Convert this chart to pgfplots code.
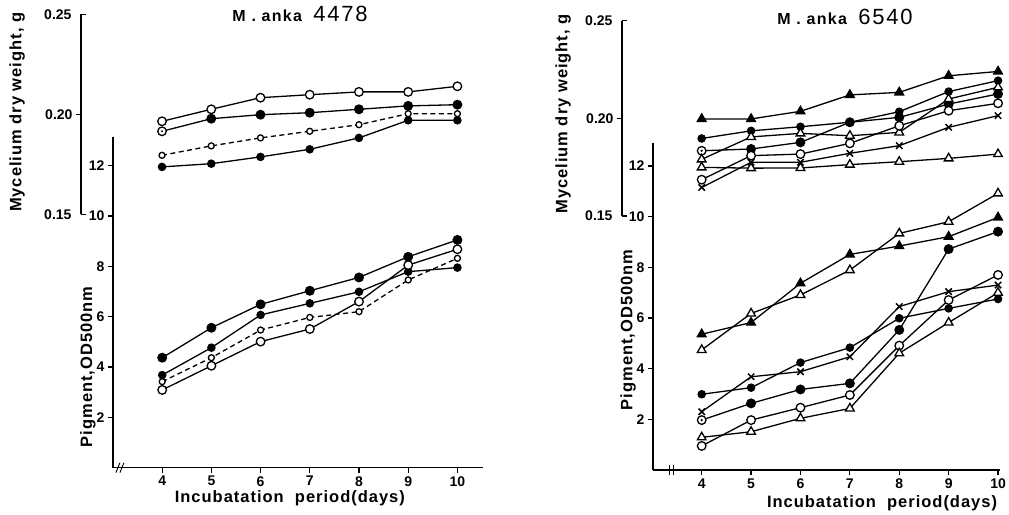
\documentclass[border=0pt]{standalone}
\usepackage{fontspec}
\setmainfont{Liberation Sans}
\newfontfamily\lblfont{Liberation Sans}[LetterSpace=6]
\newfontfamily\ttlfont{Liberation Sans}[LetterSpace=8]
\usepackage{pgfplots}
\pgfplotsset{compat=1.18}
\pgfdeclareplotmark{odot}{%
  \pgfpathcircle{\pgfpointorigin}{\pgfplotmarksize}\pgfusepathqfillstroke
  \pgfsetfillcolor{black}%
  \pgfpathcircle{\pgfpointorigin}{0.28\pgfplotmarksize}\pgfusepathqfill}
\pgfplotsset{
  common/.style={scale only axis, clip=false, anchor=south west,
    axis line style={-, line width=1.5pt},
    tick style={black, line width=1.2pt}, major tick length=5pt, tick align=outside,
    tick label style={font=\bfseries\fontsize{14}{14}\selectfont},
    /pgf/number format/assume math mode=true,
    label style={font=\lblfont\bfseries\fontsize{16.5}{16.5}\selectfont},
    every axis plot/.append style={black, line width=1.3pt}},
  sO/.style={mark=*, mark size=4.3pt, mark options={fill=white, solid, line width=1.3pt}},
  sOs/.style={mark=*, mark size=3pt, mark options={fill=white, solid, line width=1.3pt}},
  sD/.style={mark=odot, mark size=4.3pt, mark options={fill=white, solid, line width=1.3pt}},
  sF/.style={mark=*, mark size=3.6pt, mark options={fill=black, solid}},
  sT/.style={mark=triangle*, mark size=5pt, mark options={fill=white, solid, line width=1.3pt}},
  sTF/.style={mark=triangle*, mark size=5pt, mark options={fill=black, solid}},
  sX/.style={mark=x, mark size=4.5pt, mark options={solid, line width=1.5pt}},
  dsh/.style={dash pattern=on 5pt off 3.5pt},
}
\begin{document}
\begin{tikzpicture}
\useasboundingbox (0,0) rectangle (1009pt,514pt);
%================ LEFT: pigment ================
\begin{axis}[common, at={(113pt,46.3pt)}, width=370pt, height=330.7pt,
  xmin=3.0, xmax=10.52, ymin=0, ymax=13.14,
  axis x line*=bottom, axis y line*=left,
  xtick={4,5,6,7,8,9,10}, ytick={2,4,6,8,10,12},
  xlabel={Incubatation\ \ period(days)},
  xlabel style={at={(axis description cs:0.478,-0.0916)}, anchor=center},
  ylabel={Pigment,OD500nm},
  ylabel style={at={(axis description cs:-0.0676,0.3045)}, anchor=center}]
\addplot[sD] coordinates {(4,4.37)(5,5.56)(6,6.49)(7,7.03)(8,7.56)(9,8.38)(10,9.05)};
\addplot[sF, only marks, forget plot] coordinates {(4,4.37)};
\addplot[sF] coordinates {(4,3.68)(5,4.77)(6,6.07)(7,6.53)(8,6.99)(9,7.79)(10,7.95)};
\addplot[sOs, dsh] coordinates {(4,3.42)(5,4.37)(6,5.47)(7,5.97)(8,6.20)(9,7.46)(10,8.32)};
\addplot[sO] coordinates {(4,3.09)(5,4.05)(6,5.01)(7,5.51)(8,6.60)(9,8.05)(10,8.68)};
\draw[line width=0.9pt] (axis cs:3.12,0) ++(-3pt,-5pt) -- ++(4pt,10pt);
\draw[line width=0.9pt] (axis cs:3.12,0) ++(1pt,-5pt) -- ++(4pt,10pt);
\end{axis}
%================ LEFT: mycelium ================
\begin{axis}[common, at={(81pt,299.7pt)}, width=402pt, height=200pt,
  xmin=2.354, xmax=10.52, ymin=0.15, ymax=0.25,
  axis x line=none, axis y line*=left,
  ytick={0.20}, yticklabels={0.20},
  extra y ticks={0.15,0.25}, extra y tick labels={0.15,0.25},
  extra y tick style={tick align=inside, yticklabel style={xshift=-6pt}},
  ylabel={Mycelium dry weight, g},
  ylabel style={at={(axis description cs:-0.159,0.51)}, anchor=center},
  title={\ttlfont\bfseries\fontsize{16}{16}\selectfont M . anka\ \ {\mdseries\fontsize{22}{22}\selectfont 4478}},
  title style={at={(axis description cs:0.545,0.9715)}, anchor=center}]
\addplot[sO] coordinates {(4,0.1965)(5,0.2025)(6,0.2083)(7,0.2098)(8,0.2112)(9,0.2112)(10,0.2140)};
\addplot[sD] coordinates {(4,0.1915)(5,0.1978)(6,0.1998)(7,0.2008)(8,0.2025)(9,0.2042)(10,0.2048)};
\addplot[sOs, dsh] coordinates {(4,0.1795)(5,0.1842)(6,0.1882)(7,0.1915)(8,0.1948)(9,0.2003)(10,0.2003)};
\addplot[sF] coordinates {(4,0.1737)(5,0.1753)(6,0.1787)(7,0.1825)(8,0.1882)(9,0.1970)(10,0.1970)};
\end{axis}
%================ RIGHT: pigment ================
\begin{axis}[common, at={(653pt,44pt)}, width=347pt, height=327.3pt,
  xmin=3.014, xmax=10.04, ymin=0, ymax=12.92,
  axis x line*=bottom, axis y line*=left,
  xtick={4,5,6,7,8,9,10}, ytick={2,4,6,8,10,12},
  xlabel={Incubatation\ \ period(days)},
  xlabel style={at={(axis description cs:0.66,-0.1008)}, anchor=center},
  ylabel={Pigment,OD500nm},
  ylabel style={at={(axis description cs:-0.072,0.428)}, anchor=center}]
\addplot[sTF] coordinates {(4,5.36)(5,5.82)(6,7.37)(7,8.51)(8,8.84)(9,9.21)(10,9.97)};
\addplot[sT] coordinates {(4,4.74)(5,6.18)(6,6.91)(7,7.89)(8,9.34)(9,9.80)(10,10.92)};
\addplot[sD] coordinates {(4,1.97)(5,2.63)(6,3.18)(7,3.42)(8,5.53)(9,8.72)(10,9.41)};
\addplot[sF] coordinates {(4,2.99)(5,3.25)(6,4.24)(7,4.83)(8,5.99)(9,6.38)(10,6.75)};
\addplot[sX] coordinates {(4,2.30)(5,3.68)(6,3.88)(7,4.47)(8,6.45)(9,7.04)(10,7.30)};
\addplot[sO] coordinates {(4,0.95)(5,1.97)(6,2.46)(7,2.96)(8,4.91)(9,6.71)(10,7.70)};
\addplot[sT] coordinates {(4,1.29)(5,1.51)(6,2.04)(7,2.43)(8,4.61)(9,5.82)(10,7.00)};
\draw[line width=0.9pt] (axis cs:3.4,0) ++(-2.5pt,-5pt) -- ++(0pt,10pt);
\draw[line width=0.9pt] (axis cs:3.4,0) ++(1.5pt,-5pt) -- ++(0pt,10pt);
\end{axis}
%================ RIGHT: mycelium ================
\begin{axis}[common, at={(622pt,298pt)}, width=378pt, height=195.3pt,
  xmin=2.387, xmax=10.04, ymin=0.15, ymax=0.25,
  axis x line=none, axis y line*=left,
  ytick={0.20}, yticklabels={0.20},
  extra y ticks={0.15,0.25}, extra y tick labels={0.15,0.25},
  extra y tick style={tick align=inside, yticklabel style={xshift=-6pt}},
  ylabel={Mycelium dry weight, g},
  ylabel style={at={(axis description cs:-0.156,0.522)}, anchor=center},
  title={\ttlfont\bfseries\fontsize{16}{16}\selectfont M . anka\ \ {\mdseries\fontsize{22}{22}\selectfont 6540}},
  title style={at={(axis description cs:0.59,0.988)}, anchor=center}]
\addplot[sTF] coordinates {(4,0.1997)(5,0.1997)(6,0.2036)(7,0.2120)(8,0.2133)(9,0.2218)(10,0.2240)};
\addplot[sF] coordinates {(4,0.1897)(5,0.1936)(6,0.1957)(7,0.1980)(8,0.2034)(9,0.2137)(10,0.2193)};
\addplot[sD] coordinates {(4,0.1834)(5,0.1843)(6,0.1877)(7,0.1980)(8,0.2005)(9,0.2073)(10,0.2125)};
\addplot[sT] coordinates {(4,0.1790)(5,0.1905)(6,0.1923)(7,0.1911)(8,0.1928)(9,0.2099)(10,0.2159)};
\addplot[sO] coordinates {(4,0.1686)(5,0.1809)(6,0.1817)(7,0.1872)(8,0.1962)(9,0.2039)(10,0.2077)};
\addplot[sX] coordinates {(4,0.1646)(5,0.1775)(6,0.1775)(7,0.1821)(8,0.1860)(9,0.1954)(10,0.2014)};
\addplot[sT] coordinates {(4,0.1749)(5,0.1745)(6,0.1746)(7,0.1763)(8,0.1778)(9,0.1795)(10,0.1817)};
\end{axis}
\end{tikzpicture}
\end{document}
